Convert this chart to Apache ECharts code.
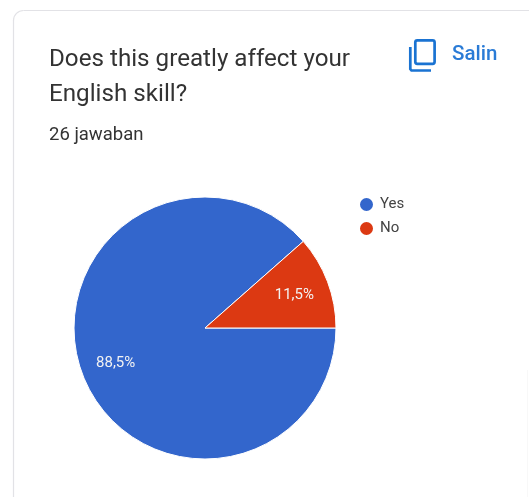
<!DOCTYPE html>
<html>
<head>
<meta charset="utf-8">
<style>html,body{margin:0;padding:0;background:#fff}#chart{width:529px;height:497px}</style>
<script src="https://cdn.jsdelivr.net/npm/echarts@6/dist/echarts.min.js"></script>
</head>
<body>
<div id="chart"></div>
<script>
// Survey question summary: share of answers per option
const categories = ['Yes', 'No'];
const shares = [88.5, 11.5];
const sliceColors = ['#3366cc', '#dc3912'];
const questionLines = ['Does this greatly affect your', 'English skill?'];
const responseCount = '26 jawaban';
const copyLabel = 'Salin';

const font = 'Roboto, sans-serif';
const slices = categories.map((name, i) => ({
  name,
  value: shares[i],
  itemStyle: { color: sliceColors[i] }
}));
const cardStroke = { fill: 'none', stroke: '#e2e2e6', lineWidth: 1.2 };
const iconStroke = { fill: 'none', stroke: '#1a73d2', lineWidth: 2.7 };

const chart = echarts.init(document.getElementById('chart'), null, { renderer: 'canvas' });
chart.setOption({
  animation: false,
  backgroundColor: '#ffffff',
  legend: {
    data: categories,
    orient: 'vertical',
    left: 353,
    top: 191,
    icon: 'circle',
    itemWidth: 15,
    itemHeight: 15,
    itemGap: 7,
    selectedMode: false,
    textStyle: { fontFamily: font, fontSize: 15, color: '#444444', padding: [0, 0, 0, 1] }
  },
  series: [
    {
      type: 'pie',
      center: [205, 328],
      radius: [0, 131],
      startAngle: 0,
      clockwise: true,
      silent: true,
      data: slices,
      label: { show: false },
      labelLine: { show: false },
      itemStyle: { borderColor: '#ffffff', borderWidth: 1 }
    },
    {
      // Transparent ring that places the percentage text out towards the rim
      type: 'pie',
      center: [205, 329],
      radius: [54, 131],
      startAngle: 0,
      clockwise: true,
      silent: true,
      z: 3,
      legendHoverLink: false,
      data: categories.map((name, i) => ({ name, value: shares[i], itemStyle: { color: 'rgba(0,0,0,0)' } })),
      label: {
        show: true,
        position: 'inside',
        fontFamily: font,
        fontSize: 15,
        color: '#f2f2f2',
        formatter: p => String(p.value).replace('.', ',') + '%'
      },
      labelLine: { show: false }
    }
  ],
  graphic: [
    // Card outline: left edge, rounded corner, top edge, and the next card's faint edge
    { type: 'line', silent: true, shape: { x1: 13.5, y1: 497, x2: 13.5, y2: 20 }, style: cardStroke },
    { type: 'arc', silent: true, shape: { cx: 23.5, cy: 20.5, r: 10, startAngle: Math.PI, endAngle: Math.PI * 1.5 }, style: cardStroke },
    { type: 'line', silent: true, shape: { x1: 23.5, y1: 10.5, x2: 529, y2: 10.5 }, style: cardStroke },
    { type: 'line', silent: true, shape: { x1: 527.5, y1: 370, x2: 527.5, y2: 497 }, style: { stroke: '#f8f8f8', lineWidth: 1 } },
    {
      type: 'text', left: 49, top: 48,
      style: { text: questionLines[0], fontFamily: font, fontSize: 24.2, fill: '#333333' }
    },
    {
      type: 'text', left: 49, top: 83,
      style: { text: questionLines[1], fontFamily: font, fontSize: 24.2, fill: '#333333' }
    },
    {
      type: 'text', left: 49, top: 126,
      style: { text: responseCount, fontFamily: font, fontSize: 18.5, fill: '#333333' }
    },
    // Copy icon: front sheet and the corner of the sheet behind it
    { type: 'rect', silent: true, shape: { x: 415.3, y: 40.3, width: 19.3, height: 23.5, r: 2 }, style: iconStroke },
    { type: 'polyline', silent: true, shape: { points: [[410.3, 47], [410.3, 69], [411.5, 70.5], [431, 70.5]] }, style: iconStroke },
    {
      type: 'text', left: 452, top: 44,
      style: { text: copyLabel, fontFamily: font, fontSize: 20.5, fontWeight: 500, fill: '#2a7bd6' }
    }
  ]
});
</script>
</body>
</html>
